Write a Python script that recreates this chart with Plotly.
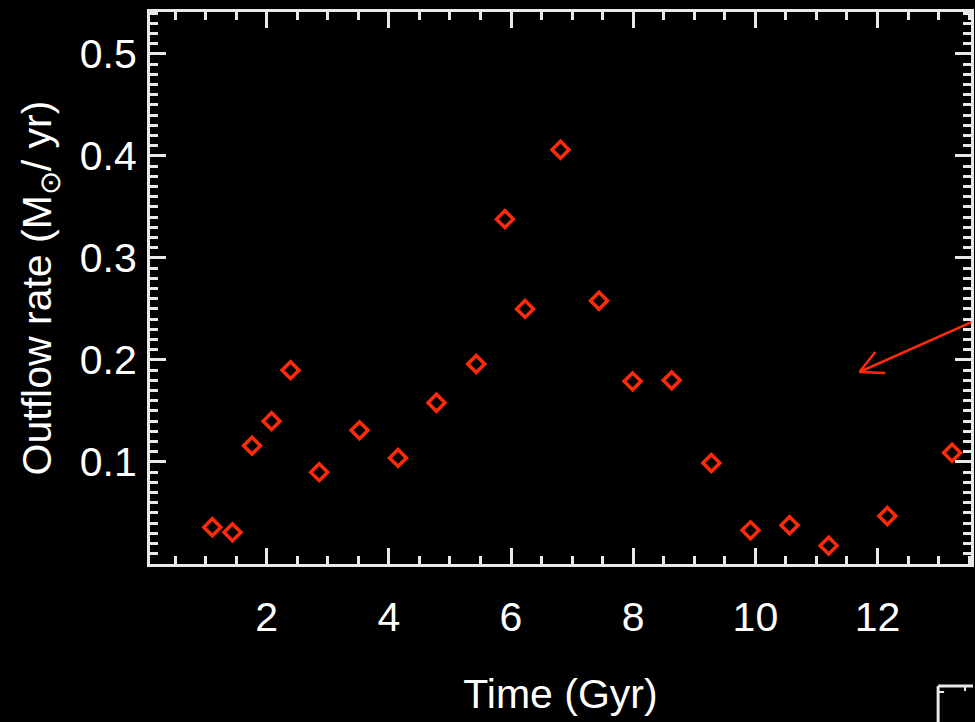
import plotly.graph_objects as go

# Data
time_gyr = [1.11, 1.44, 1.76, 2.08, 2.39, 2.86, 3.52, 4.15, 4.78, 5.43,
            5.90, 6.23, 6.81, 7.44, 7.99, 8.63, 9.28, 9.92, 10.56, 11.20,
            12.16, 13.22]
outflow = [0.036, 0.031, 0.116, 0.140, 0.190, 0.090, 0.131, 0.104, 0.158, 0.196,
           0.338, 0.250, 0.406, 0.258, 0.179, 0.180, 0.099, 0.033, 0.038, 0.018,
           0.047, 0.109]
x_ticks = [2, 4, 6, 8, 10, 12]
y_ticks = [0.1, 0.2, 0.3, 0.4, 0.5]

RED = "#ff2a0a"
AXC = "#e8e8e8"
FONT = "Liberation Sans, Arial, sans-serif"

fig = go.Figure()
fig.add_trace(go.Scatter(
    x=time_gyr, y=outflow, mode="markers",
    marker=dict(symbol="diamond", size=13, color="black",
                line=dict(color=RED, width=3.5)),
    showlegend=False, cliponaxis=False,
))

axis_common = dict(
    showgrid=False, zeroline=False, showline=True, linecolor=AXC, linewidth=3,
    mirror="allticks", ticks="inside", ticklen=16, tickwidth=2.5, tickcolor=AXC,
    tickfont=dict(family=FONT, size=41, color="white"),
)

fig.update_xaxes(
    range=[0.09, 13.53], tickvals=x_ticks, ticktext=[str(v) for v in x_ticks],
    minor=dict(ticks="inside", dtick=0.5, tick0=0, ticklen=8, tickwidth=2.5, tickcolor=AXC),
    ticklabelstandoff=15,
    title=dict(text="Time (Gyr)", font=dict(family=FONT, size=41, color="white"), standoff=41),
    **axis_common,
)
fig.update_yaxes(
    range=[0, 0.541], tickvals=y_ticks, ticktext=[f"{v:.1f}" for v in y_ticks],
    minor=dict(ticks="inside", dtick=0.01, tick0=0, ticklen=8, tickwidth=2.5, tickcolor=AXC),
    ticklabelstandoff=2,
    title=dict(text="Outflow rate (M<sub>⊙</sub>/ yr)", font=dict(family=FONT, size=41, color="white"), standoff=16),
    **axis_common,
)

# pixel -> data helpers for the annotation arrow
def px2x(p):
    return 0.09 + (p - 150) / (974 - 150) * (13.53 - 0.09)

def py2y(p):
    return (564 - p) / (564 - 12) * 0.541

shapes = [
    dict(type="line", xref="x", yref="y", x0=px2x(975), y0=py2y(322), x1=px2x(862), y1=py2y(372),
         line=dict(color=RED, width=2.5)),
    dict(type="line", xref="x", yref="y", x0=px2x(862), y0=py2y(372), x1=px2x(878), y1=py2y(352),
         line=dict(color=RED, width=2.5)),
    dict(type="line", xref="x", yref="y", x0=px2x(862), y0=py2y(372), x1=px2x(888), y1=py2y(373),
         line=dict(color=RED, width=2.5)),
    # corner of a neighbouring panel at bottom right
    dict(type="line", xref="paper", yref="paper", x0=(941 - 150) / 824, y0=(564 - 722) / 552,
         x1=(941 - 150) / 824, y1=(564 - 686) / 552, line=dict(color=AXC, width=3)),
    dict(type="line", xref="paper", yref="paper", x0=(941 - 150) / 824, y0=(564 - 686) / 552,
         x1=(976 - 150) / 824, y1=(564 - 686) / 552, line=dict(color=AXC, width=3)),
    dict(type="line", xref="paper", yref="paper", x0=(941 - 150) / 824, y0=(564 - 692) / 552,
         x1=(947 - 150) / 824, y1=(564 - 692) / 552, line=dict(color=AXC, width=2)),
    dict(type="line", xref="paper", yref="paper", x0=(968 - 150) / 824, y0=(564 - 686) / 552,
         x1=(968 - 150) / 824, y1=(564 - 691) / 552, line=dict(color=AXC, width=2)),
]

fig.update_layout(
    width=975, height=722,
    margin=dict(l=150, r=1, t=12, b=158),
    paper_bgcolor="black", plot_bgcolor="black",
    font=dict(family=FONT, color="white"),
    shapes=shapes,
)

fig.write_html(
    "out.html",
    config={"displayModeBar": False},
    post_script="document.body.style.margin='0';document.body.style.background='black';"
                "document.documentElement.style.background='black';document.body.style.overflow='hidden';",
)
